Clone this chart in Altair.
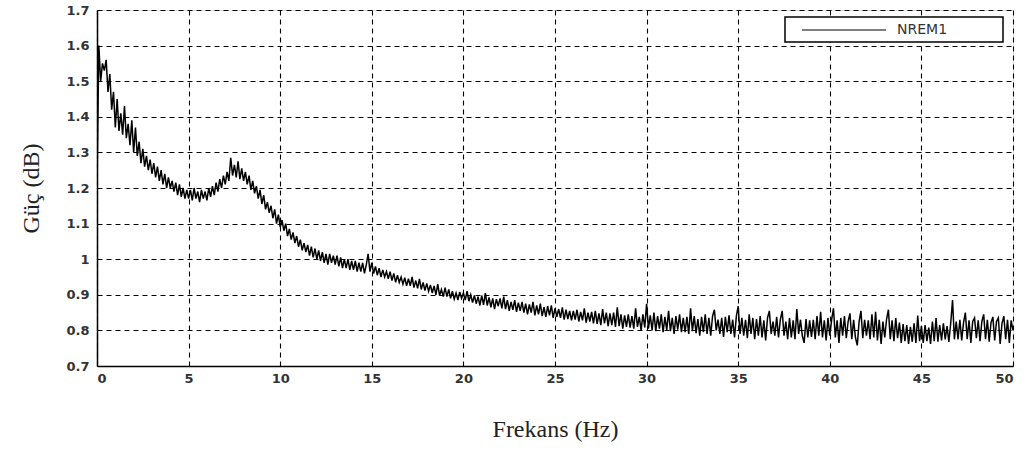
import altair as alt
import pandas as pd

series_name = "NREM1"
x_ticks = [0, 5, 10, 15, 20, 25, 30, 35, 40, 45, 50]
y_ticks = [0.7, 0.8, 0.9, 1.0, 1.1, 1.2, 1.3, 1.4, 1.5, 1.6, 1.7]

power = [
    1.20, 1.60, 1.50, 1.55, 1.53, 1.56, 1.47, 1.52, 1.42, 1.47,
    1.37, 1.45, 1.36, 1.41, 1.35, 1.43, 1.34, 1.38, 1.32, 1.39,
    1.30, 1.37, 1.29, 1.33, 1.27, 1.31, 1.26, 1.29, 1.25, 1.28,
    1.24, 1.27, 1.23, 1.26, 1.22, 1.25, 1.21, 1.24, 1.20, 1.23,
    1.20, 1.22, 1.19, 1.215, 1.18, 1.21, 1.175, 1.20, 1.17, 1.195,
    1.17, 1.195, 1.165, 1.20, 1.17, 1.19, 1.16, 1.195, 1.17, 1.19,
    1.165, 1.20, 1.175, 1.205, 1.18, 1.215, 1.19, 1.225, 1.20, 1.235,
    1.21, 1.245, 1.22, 1.285, 1.235, 1.265, 1.23, 1.275, 1.225, 1.255,
    1.22, 1.245, 1.21, 1.235, 1.195, 1.22, 1.185, 1.205, 1.17, 1.195,
    1.155, 1.18, 1.14, 1.16, 1.13, 1.15, 1.115, 1.14, 1.10, 1.125,
    1.09, 1.11, 1.08, 1.10, 1.065, 1.085, 1.055, 1.075, 1.045, 1.065,
    1.035, 1.055, 1.025, 1.045, 1.02, 1.04, 1.01, 1.035, 1.005, 1.03,
    1.0, 1.025, 0.995, 1.02, 0.99, 1.015, 0.985, 1.015, 0.99, 1.01,
    0.985, 1.01, 0.98, 1.005, 0.975, 1.0, 0.975, 1.0, 0.97, 0.995,
    0.97, 0.995, 0.965, 0.99, 0.965, 0.99, 0.96, 0.985, 1.015, 0.965,
    0.99, 0.96, 0.98, 0.955, 0.975, 0.95, 0.97, 0.95, 0.965, 0.945,
    0.965, 0.94, 0.96, 0.935, 0.955, 0.935, 0.95, 0.93, 0.948, 0.925,
    0.945, 0.925, 0.95, 0.92, 0.94, 0.918, 0.945, 0.915, 0.935, 0.912,
    0.932, 0.91, 0.928, 0.905, 0.925, 0.90, 0.93, 0.898, 0.915, 0.895,
    0.92, 0.895, 0.915, 0.89, 0.91, 0.888, 0.905, 0.885, 0.908, 0.89,
    0.905, 0.885, 0.91, 0.882, 0.90, 0.878, 0.898, 0.875, 0.895, 0.87,
    0.898, 0.872, 0.905, 0.87, 0.893, 0.865, 0.89, 0.86, 0.888, 0.868,
    0.89, 0.862, 0.895, 0.86, 0.885, 0.855, 0.88, 0.858, 0.885, 0.852,
    0.878, 0.855, 0.88, 0.85, 0.875, 0.845, 0.873, 0.85, 0.88, 0.842,
    0.87, 0.845, 0.875, 0.84, 0.865, 0.838, 0.868, 0.842, 0.87, 0.835,
    0.862, 0.838, 0.86, 0.835, 0.865, 0.83, 0.858, 0.832, 0.855, 0.828,
    0.855, 0.83, 0.858, 0.825, 0.852, 0.828, 0.862, 0.822, 0.85, 0.825,
    0.852, 0.82, 0.855, 0.818, 0.848, 0.815, 0.86, 0.82, 0.85, 0.812,
    0.848, 0.815, 0.85, 0.81, 0.865, 0.812, 0.845, 0.805, 0.842, 0.81,
    0.845, 0.808, 0.84, 0.805, 0.862, 0.81, 0.838, 0.80, 0.845, 0.808,
    0.875, 0.805, 0.842, 0.80, 0.85, 0.798, 0.84, 0.805, 0.845, 0.795,
    0.838, 0.80, 0.855, 0.798, 0.835, 0.79, 0.84, 0.802, 0.845, 0.795,
    0.835, 0.795, 0.838, 0.79, 0.862, 0.798, 0.84, 0.792, 0.832, 0.785,
    0.838, 0.795, 0.845, 0.79, 0.835, 0.785, 0.84, 0.858, 0.80, 0.83,
    0.79, 0.835, 0.782, 0.838, 0.795, 0.842, 0.79, 0.83, 0.78, 0.84,
    0.868, 0.79, 0.835, 0.785, 0.83, 0.778, 0.845, 0.79, 0.835, 0.775,
    0.832, 0.785, 0.84, 0.78, 0.828, 0.772, 0.835, 0.855, 0.79, 0.825,
    0.785, 0.838, 0.78, 0.83, 0.855, 0.785, 0.825, 0.775, 0.835, 0.78,
    0.828, 0.775, 0.86, 0.79, 0.83, 0.785, 0.765, 0.832, 0.78, 0.828,
    0.782, 0.83, 0.775, 0.84, 0.785, 0.852, 0.78, 0.828, 0.772, 0.835,
    0.785, 0.83, 0.862, 0.78, 0.828, 0.765, 0.835, 0.785, 0.84, 0.778,
    0.825, 0.848, 0.775, 0.83, 0.78, 0.758, 0.825, 0.855, 0.778, 0.83,
    0.785, 0.828, 0.775, 0.845, 0.78, 0.852, 0.772, 0.83, 0.762, 0.825,
    0.78, 0.832, 0.858, 0.775, 0.828, 0.77, 0.835, 0.778, 0.822, 0.765,
    0.818, 0.77, 0.815, 0.762, 0.81, 0.768, 0.82, 0.765, 0.842, 0.77,
    0.812, 0.765, 0.815, 0.77, 0.808, 0.762, 0.825, 0.77, 0.835, 0.768,
    0.815, 0.772, 0.82, 0.775, 0.812, 0.768, 0.82, 0.885, 0.775, 0.825,
    0.775, 0.83, 0.772, 0.822, 0.85, 0.775, 0.828, 0.765, 0.825, 0.835,
    0.778, 0.828, 0.77, 0.825, 0.845, 0.775, 0.83, 0.768, 0.822, 0.838,
    0.772, 0.825, 0.835, 0.762, 0.82, 0.84, 0.775, 0.83, 0.765, 0.828,
    0.80,
]
freq = [round(i * 0.1, 1) for i in range(len(power))]

df = pd.DataFrame({"Frekans": freq, "Guc": power})

label_font = "DejaVu Sans"
grid_kw = dict(grid=True, gridColor="black", gridDash=[5, 4], gridWidth=1.1, gridOpacity=1)

line = (
    alt.Chart(df)
    .mark_line(strokeWidth=1.5, color="black", clip=True)
    .encode(
        x=alt.X(
            "Frekans:Q",
            scale=alt.Scale(domain=[0, 50], nice=False, zero=False),
            axis=alt.Axis(
                values=x_ticks,
                title="Frekans (Hz)",
                titleFont="Liberation Serif",
                titleFontSize=24,
                titleFontWeight="normal",
                titleColor="#222",
                titlePadding=32,
                labelFont=label_font,
                labelFontSize=13,
                labelFontWeight="bold",
                labelColor="#333",
                labelPadding=6,
                ticks=False,
                domainColor="black",
                domainWidth=1.5,
                **grid_kw,
            ),
        ),
        y=alt.Y(
            "Guc:Q",
            scale=alt.Scale(domain=[0.7, 1.7], nice=False, zero=False),
            axis=alt.Axis(
                values=y_ticks,
                format="~g",
                title="Güç (dB)",
                titleFont="Liberation Serif",
                titleFontSize=24,
                titleFontWeight="normal",
                titleColor="#222",
                titlePadding=22,
                labelFont=label_font,
                labelFontSize=13,
                labelFontWeight="bold",
                labelColor="#333",
                labelPadding=8,
                ticks=False,
                domainColor="black",
                domainWidth=1.5,
                **grid_kw,
            ),
        ),
    )
)

legend_df = pd.DataFrame({"label": [series_name]})
legend_box = alt.Chart(legend_df).mark_rect(
    fill="white", stroke="black", strokeWidth=1.5
).encode(x=alt.value(688), x2=alt.value(906), y=alt.value(7), y2=alt.value(32))
legend_line = alt.Chart(legend_df).mark_rule(color="black", strokeWidth=1.2).encode(
    x=alt.value(705), x2=alt.value(789), y=alt.value(20)
)
legend_text = alt.Chart(legend_df).mark_text(
    align="left", baseline="middle", font=label_font, fontSize=14, color="#333"
).encode(x=alt.value(800), y=alt.value(20), text="label:N")

chart = (
    alt.layer(line, legend_box, legend_line, legend_text)
    .properties(
        width=916,
        height=356,
        autosize=alt.AutoSizeParams(type="none"),
        padding={"left": 97, "top": 10, "right": 20, "bottom": 86},
    )
    .configure_view(stroke="black", strokeWidth=1.5)
    .configure(background="white")
)

chart.save("out.html", embed_options={"renderer": "svg", "actions": False})
